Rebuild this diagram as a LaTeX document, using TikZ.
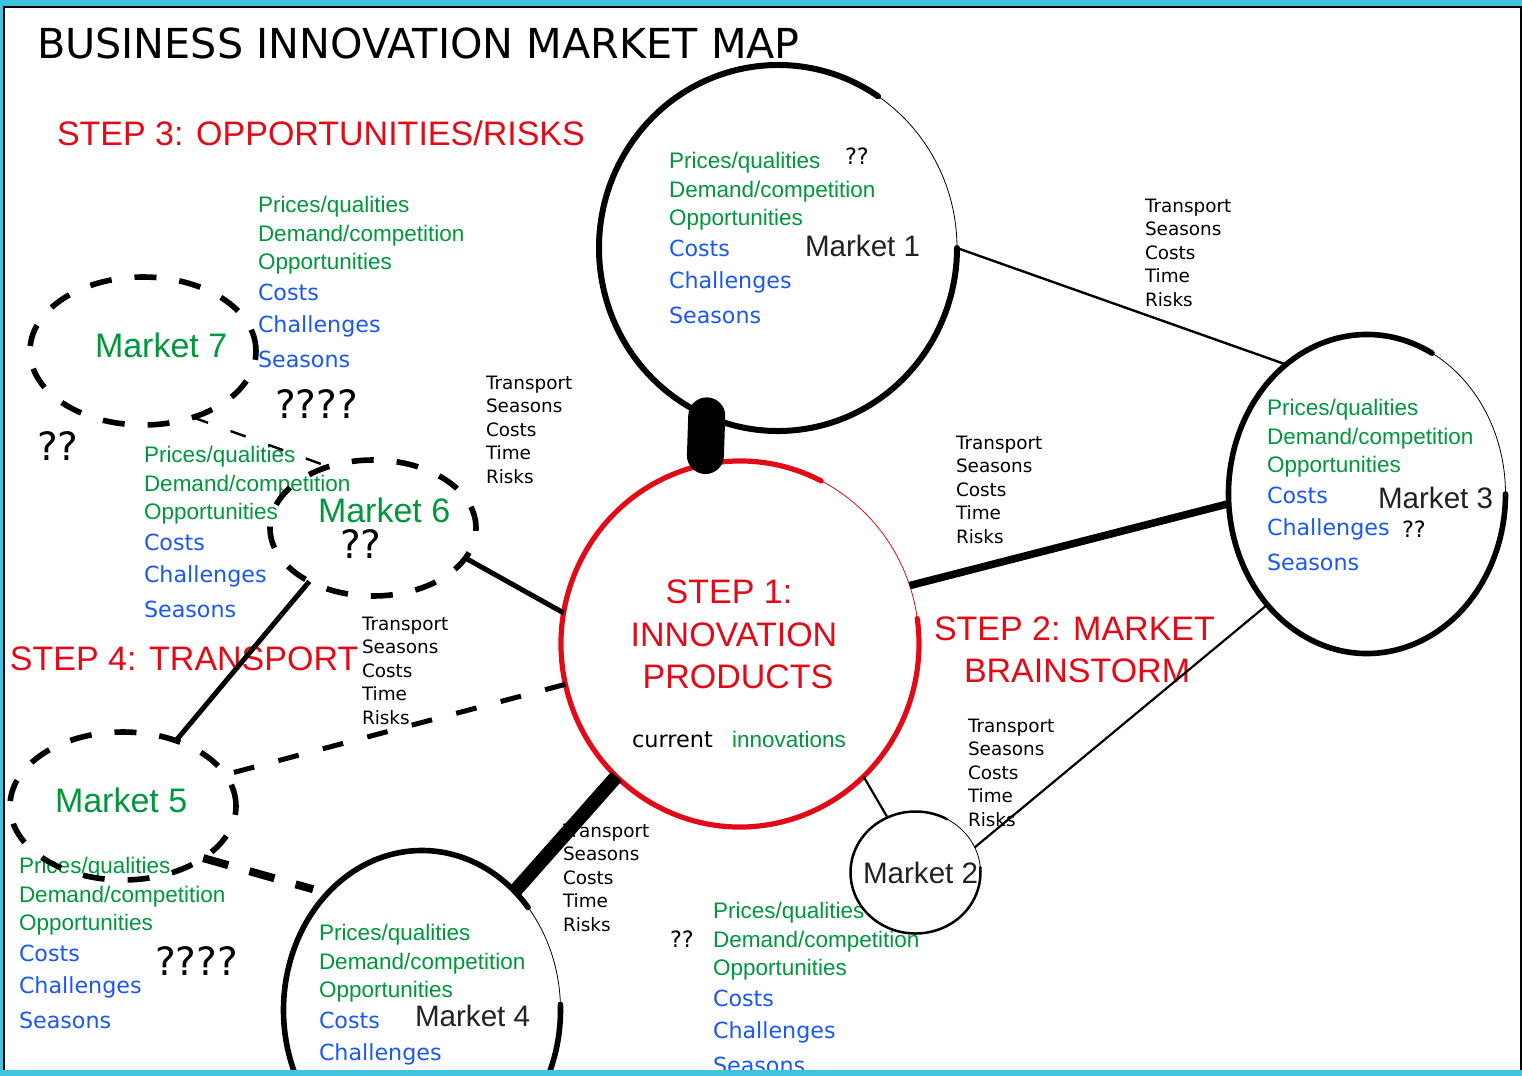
\documentclass[tikz,border=0pt]{standalone}
\usepackage{fontspec}
\setmainfont{DejaVu Sans}
\newfontfamily\arialf{Liberation Sans}
\newfontfamily\tahomaf{DejaVu Sans}
\usetikzlibrary{shapes.geometric}

\definecolor{framecyan}{HTML}{40C4DE}
\definecolor{mgreen}{HTML}{00963C}
\definecolor{mblue}{HTML}{1A57F5}
\definecolor{mred}{HTML}{E30A17}
\definecolor{mgray}{HTML}{222222}

\tikzset{
  txt/.style={inner sep=0, outer sep=0, anchor=base west},
  titletxt/.style={txt, font=\fontsize{20.65}{24}\tahomaf},
  steptxt/.style={txt, font=\fontsize{17}{20}\arialf, text=mred},
  mlabel/.style={txt, font=\fontsize{14.8}{18}\arialf, text=mgray},
  glabel/.style={txt, font=\fontsize{17}{20}\arialf, text=mgreen},
  gitem/.style={txt, font=\fontsize{11.25}{13}\arialf, text=mgreen},
  bitem/.style={txt, font=\fontsize{11.1}{13}\tahomaf, text=mblue},
  qbig/.style={txt, font=\fontsize{19.5}{23}\tahomaf},
  qsmall/.style={txt, font=\fontsize{11.2}{13}\tahomaf},
  factors/.style={inner sep=0, outer sep=0, anchor=north west, align=left,
    font=\fontsize{9.2}{11.75}\tahomaf},
  mcircle/.style={ellipse, inner sep=0, outer sep=0, draw, line width=0.4pt},
  dellipse/.style={ellipse, inner sep=0, outer sep=0, draw, line width=2.8pt,
    dash pattern=on 11pt off 11.5pt},
  ring/.style={line width=2.8pt, line cap=round},
  bar/.style={line width=18.5pt, line cap=round},
}

% the five list lines of a market (first baseline at x,y)
\newcommand\marketlist[3]{%
  \node[gitem] (#1-pq) at (#2,#3) {Prices/qualities};
  \node[gitem] (#1-dc) at (#2,#3+29) {Demand/competition};
  \node[gitem] (#1-op) at (#2,#3+57) {Opportunities};
  \node[bitem] (#1-co) at (#2,#3+88) {Costs};
  \node[bitem] (#1-ch) at (#2,#3+120) {Challenges};
}
\newcommand\seasonsitem[3]{%
  \node[bitem] (#1-se) at (#2,#3+155) {Seasons};
}

\begin{document}
\begin{tikzpicture}[x=0.5pt, y=-0.5pt]
\useasboundingbox (0,0) rectangle (1522,1076);
\fill[white] (0,0) rectangle (1522,1076);

% ---------- texts ----------
\node[titletxt] (title) at (37,58) {BUSINESS INNOVATION MARKET MAP};
\node[steptxt] (step3) at (57,145) {STEP 3: OPPORTUNITIES/RISKS};
\node[steptxt] (step4) at (10,670) {STEP 4: TRANSPORT};
\node[steptxt] (step2a) at (934,640) {STEP 2: MARKET};
\node[steptxt] (step2b) at (964,682) {BRAINSTORM};
\node[steptxt, anchor=base] (step1a) at (729,603) {STEP 1:};
\node[steptxt, anchor=base] (step1b) at (734,646) {INNOVATION};
\node[steptxt, anchor=base] (step1c) at (738,688) {PRODUCTS};
\node[txt, font=\fontsize{11.2}{13}\tahomaf] (cur) at (632,747) {current};
\node[gitem] (inno) at (732,747) {innovations};

% market lists
\marketlist{l1}{669}{168} \seasonsitem{l1}{669}{168}
\marketlist{l3}{1267}{415} \seasonsitem{l3}{1267}{415}
\marketlist{l7}{258}{212} \seasonsitem{l7}{258}{212}
\marketlist{l6}{144}{462} \seasonsitem{l6}{144}{462}
\marketlist{l5}{19}{873} \seasonsitem{l5}{19}{873}
\marketlist{l4}{319}{940}
\marketlist{l2}{713}{918} \seasonsitem{l2}{713}{918}

% market names
\node[mlabel] (n1) at (805,256) {Market 1};
\node[mlabel] (n3) at (1378,508) {Market 3};
\node[mlabel] (n2) at (863,883) {Market 2};
\node[mlabel] (n4) at (415,1026) {Market 4};
\node[glabel] (n7) at (95,357) {Market 7};
\node[glabel] (n6) at (318,522) {Market 6};
\node[glabel] (n5) at (55,812) {Market 5};

% question marks
\node[qbig] (q7) at (275,418) {????};
\node[qbig] (qleft) at (37,460) {??};
\node[qbig] (q6) at (340,558) {??};
\node[qbig] (q5) at (155,975) {????};
\node[qsmall] (q1) at (845,164) {??};
\node[qsmall] (q3) at (1402,537) {??};
\node[qsmall] (q2) at (670,947) {??};

% transport factor labels
\node[factors] (f13) at (1145,198.6) {Transport\\Seasons\\Costs\\Time\\Risks};
\node[factors] (fc3) at (956,435.6) {Transport\\Seasons\\Costs\\Time\\Risks};
\node[factors] (f76) at (486,375.6) {Transport\\Seasons\\Costs\\Time\\Risks};
\node[factors] (fc6) at (362,616.6) {Transport\\Seasons\\Costs\\Time\\Risks};
\node[factors] (fc2) at (968,718.6) {Transport\\Seasons\\Costs\\Time\\Risks};
\node[factors] (fc4) at (563,823.6) {Transport\\Seasons\\Costs\\Time\\Risks};

% ---------- markets ----------
\node[mcircle, minimum width=179pt, minimum height=183pt] (m1) at (778,248) {};
\node[mcircle, draw=mred, minimum width=179pt, minimum height=183pt] (ctr) at (740,644) {};
\node[mcircle, minimum width=138.5pt, minimum height=159.5pt] (m3) at (1367,494) {};
\node[mcircle, minimum width=138.5pt, minimum height=159.5pt] (m4) at (422,1010) {};
\node[mcircle, minimum width=65pt, minimum height=61pt] (m2) at (915.5,872.5) {};
\node[dellipse, minimum width=113pt, minimum height=74pt] (m7) at (143,351) {};
\node[dellipse, minimum width=103pt, minimum height=68pt] (m6) at (373,528) {};
\node[dellipse, minimum width=113pt, minimum height=74pt] (m5) at (123,806) {};

% heavy pen strokes of the circles (lighter at the upper right)
\draw[ring, line width=3pt] (m1.center) ++(-56:179 and 183)
  arc[start angle=-56, end angle=-360, x radius=179, y radius=183];
\draw[ring, mred, line width=2.6pt] (ctr.center) ++(-63:179 and 183)
  arc[start angle=-63, end angle=-368, x radius=179, y radius=183];
\draw[ring] (m3.center) ++(-62:138.5 and 159.5)
  arc[start angle=-62, end angle=-360, x radius=138.5, y radius=159.5];
\draw[ring] (m4.center) ++(-40:138.5 and 159.5)
  arc[start angle=-40, end angle=-362, x radius=138.5, y radius=159.5];
\draw[ring, line width=1.25pt] (m2.center) ++(-61:65 and 61)
  arc[start angle=-61, end angle=-365, x radius=65, y radius=61];

% ---------- connectors ----------
\draw[bar, shorten >=4.5pt] (m1.-113) -- (ctr.101);
\draw[line width=1.2pt] (m1.east) -- (m3.122);
\draw[line width=3.8pt] (ctr.19) -- (m3.184);
\draw[line width=1.1pt] (ctr.-47.4) -- (m2.117);
\draw[line width=1.1pt] (m2.23) -- (m3.-132);
\draw[line width=7pt] (ctr.-133) -- (m4.52);
\draw[line width=2.5pt] (ctr.170) -- (m6.-18.6);
\draw[line width=2.5pt, dash pattern=on 10.5pt off 12.5pt] (ctr.193) -- (m5.17);
\draw[line width=4pt, dash pattern=on 13pt off 11pt, shorten >=7.5pt] (m5.-33) -- (m4.129);
\draw[line width=2.5pt] (m5.51) -- (m6.-140);
\draw[line width=1.2pt, dash pattern=on 8pt off 12pt] (m7.-53) -- (m6.126);

% ---------- frame ----------
\fill[framecyan, even odd rule] (0,0) rectangle (1522,1076) (4,7) rectangle (1521,1070);
\draw[line width=0.75pt] (4,1070) -- (4,7) -- (1521,7) -- (1521,1070);
\end{tikzpicture}
\end{document}
